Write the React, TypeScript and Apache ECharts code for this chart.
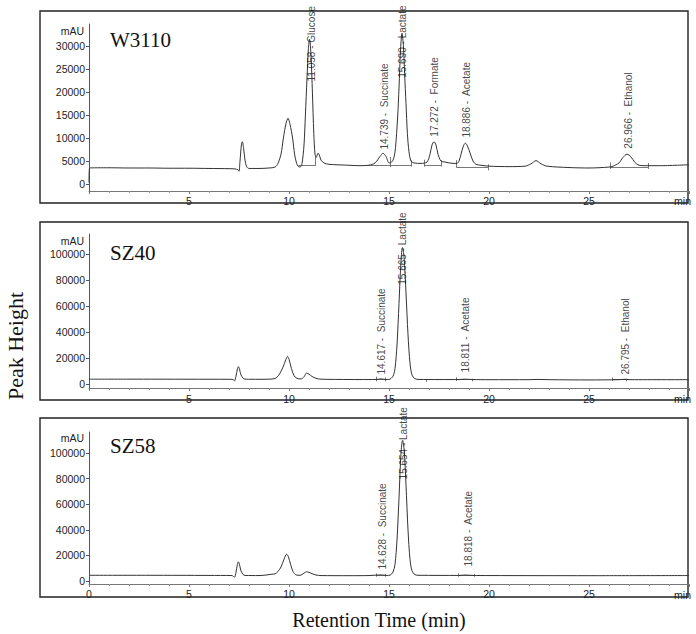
import React, { useEffect, useRef } from 'react';
import * as echarts from 'echarts';

// ---------- data (retention time in min, signal in mAU) ----------
const w3110Trace: [number, number][] = [
  [0, 300], [0.03, 3500], [1, 3550], [2, 3500], [3, 3500], [4, 3450], [5, 3450], [6, 3400], [7, 3350],
  [7.3, 3300], [7.45, 3100], [7.5, 2800], [7.55, 5000], [7.62, 8500], [7.67, 9200], [7.73, 7800],
  [7.8, 5200], [7.88, 3800], [8.0, 3400], [8.5, 3400], [9.0, 3500], [9.3, 3700], [9.45, 4500],
  [9.6, 6500], [9.72, 10000], [9.85, 13200], [9.95, 14300], [10.05, 13000], [10.18, 10000],
  [10.28, 6500], [10.38, 4500], [10.47, 3800], [10.55, 3700], [10.65, 4500], [10.75, 8500],
  [10.82, 15000], [10.9, 23000], [10.97, 29500], [11.03, 31500], [11.1, 28000], [11.17, 20000],
  [11.24, 11000], [11.3, 6500], [11.36, 5800], [11.45, 6700], [11.52, 6300], [11.6, 5200],
  [11.75, 4600], [12, 4300], [13, 4100], [13.5, 4000], [14.0, 4100], [14.3, 4600], [14.55, 6000],
  [14.7, 6700], [14.85, 6000], [15.0, 4600], [15.05, 4600], [15.2, 5200], [15.3, 7000],
  [15.38, 11000], [15.45, 16000], [15.52, 23000], [15.58, 29500], [15.65, 32800], [15.72, 30000],
  [15.78, 24000], [15.85, 17500], [15.92, 11000], [16.0, 7000], [16.1, 5000], [16.25, 4600],
  [16.6, 4500], [16.9, 4800], [17.05, 6500], [17.15, 8500], [17.25, 9200], [17.35, 8500],
  [17.45, 6500], [17.6, 5000], [17.8, 4800], [18.2, 4500], [18.4, 4500], [18.5, 5000], [18.6, 6500],
  [18.72, 8300], [18.82, 8900], [18.92, 8300], [19.05, 6800], [19.2, 5000], [19.35, 4300],
  [19.6, 4100], [20.0, 3900], [21, 3800], [21.8, 3900], [22.1, 4400], [22.35, 5100], [22.6, 4400],
  [22.9, 3900], [24, 3600], [25, 3500], [26, 3700], [26.2, 3900], [26.5, 4600], [26.7, 5800],
  [26.9, 6500], [27.1, 5900], [27.3, 4700], [27.5, 4100], [27.8, 4000], [28.5, 4000], [30, 4200],
];

const sz40Trace: [number, number][] = [
  [0, 3700], [2, 3700], [5, 3650], [7.0, 3600], [7.2, 3500], [7.27, 2300], [7.35, 6000],
  [7.42, 11500], [7.47, 13300], [7.53, 11000], [7.6, 7000], [7.7, 4500], [7.8, 3700], [8.5, 3600],
  [9.0, 3700], [9.3, 4200], [9.5, 7000], [9.7, 13000], [9.85, 19000], [9.92, 21200], [10.0, 19000],
  [10.12, 12000], [10.25, 6500], [10.4, 4300], [10.6, 3900], [10.75, 5500], [10.88, 8400],
  [11.0, 7500], [11.15, 5800], [11.35, 4300], [11.6, 3700], [12.5, 3500], [13.5, 3400],
  [14.4, 3500], [14.6, 3900], [14.8, 3500], [15.0, 3500], [15.2, 6000], [15.3, 12000],
  [15.4, 30000], [15.5, 62000], [15.6, 95000], [15.67, 105000], [15.75, 98000], [15.85, 70000],
  [15.95, 38000], [16.05, 16000], [16.15, 7000], [16.3, 4000], [16.5, 3500], [17.5, 3400],
  [18.5, 3400], [18.8, 3700], [19.2, 3400], [20, 3300], [22, 3300], [22.4, 3500], [23, 3300],
  [25, 3100], [26.5, 3300], [26.8, 3600], [27.1, 3300], [30, 3300],
];

const sz58Trace: [number, number][] = [
  [0, 4500], [3, 4500], [6, 4400], [7.15, 4300], [7.27, 3000], [7.35, 7000], [7.42, 13000],
  [7.47, 15000], [7.53, 12500], [7.6, 8000], [7.7, 5200], [7.8, 4400], [8.5, 4300], [8.9, 4800],
  [9.1, 5300], [9.3, 5600], [9.45, 7500], [9.6, 11000], [9.75, 17000], [9.88, 21000],
  [9.97, 19000], [10.08, 13000], [10.2, 7500], [10.35, 4800], [10.55, 4500], [10.75, 6200],
  [10.88, 7300], [11.0, 6800], [11.15, 5800], [11.35, 4700], [11.6, 4300], [13, 4200],
  [14.0, 4300], [14.6, 4800], [14.9, 4400], [15.05, 4600], [15.2, 7000], [15.3, 13000],
  [15.4, 32000], [15.5, 65000], [15.6, 100000], [15.68, 110000], [15.76, 102000], [15.85, 75000],
  [15.95, 40000], [16.05, 17000], [16.15, 8000], [16.3, 5000], [16.5, 4500], [18.5, 4400],
  [18.8, 4700], [19.2, 4400], [20, 4300], [25, 4200], [30, 4300],
];

// peak annotations: [time, value where the label starts, text]
const w3110Peaks: [number, number, string][] = [
  [11.1, 22200, '11.058 - Glucose'],
  [14.75, 7400, '14.739 -  Succinate'],
  [15.65, 23000, '15.690 - Lactate'],
  [17.25, 10200, '17.272 -  Formate'],
  [18.85, 10000, '18.886 -  Acetate'],
  [26.95, 7600, '26.966 -  Ethanol'],
];
const sz40Peaks: [number, number, string][] = [
  [14.63, 6900, '14.617 -  Succinate'],
  [15.67, 76000, '15.665 - Lactate'],
  [18.8, 8500, '18.811 -  Acetate'],
  [26.8, 6900, '26.795 -  Ethanol'],
];
const sz58Peaks: [number, number, string][] = [
  [14.68, 8600, '14.628 -  Succinate'],
  [15.72, 79000, '15.654 - Lactate'],
  [18.97, 11000, '18.818 -  Acetate'],
];

// integration marks: vertical ticks [time, from, to] and baselines [from, to, value]
const w3110Ticks: [number, number, number][] = [
  [11.33, 4000, 5900], [15.05, 3700, 5900], [16.13, 3800, 5200], [16.77, 3800, 5300],
  [17.63, 3800, 5200], [18.37, 3600, 5200], [19.95, 3000, 4300], [26.05, 3300, 4700], [27.95, 3300, 4600],
];
const w3110Bases: [number, number, number][] = [
  [10.47, 11.33, 4000], [13.92, 15.05, 4100], [15.05, 16.13, 4000], [16.77, 17.63, 4000],
  [18.37, 19.95, 3700], [26.05, 27.95, 3600],
];
const sz40Ticks: [number, number, number][] = [
  [14.35, 2000, 5600], [14.8, 2000, 5000], [16.85, 1500, 3500], [18.38, 2300, 5200],
  [19.18, 2000, 4000], [26.18, 2300, 5000], [26.85, 2000, 4000],
];
const sz40Bases: [number, number, number][] = [
  [14.35, 14.8, 3500], [18.38, 19.18, 3300], [26.18, 26.85, 3300],
];
const sz58Ticks: [number, number, number][] = [
  [14.35, 3400, 6000], [14.8, 3400, 5500], [18.47, 3400, 6000], [19.27, 3400, 5500],
];
const sz58Bases: [number, number, number][] = [
  [14.35, 14.8, 4300], [18.47, 19.27, 4300],
];

const panelNames = ['W3110', 'SZ40', 'SZ58'];
const yTicksW3110 = [0, 5000, 10000, 15000, 20000, 25000, 30000];
const yTicksSZ = [0, 20000, 40000, 60000, 80000, 100000];

// ---------- layout ----------
const SANS = '"Liberation Sans", Arial, sans-serif';
const SERIF = '"Liberation Serif", "Times New Roman", serif';

const panels = [
  { trace: w3110Trace, peaks: w3110Peaks, ticks: w3110Ticks, bases: w3110Bases, yTicks: yTicksW3110,
    top: 24, height: 167, min: -1500, max: 34800, box: [40, 11, 648, 192], nameY: 40, mauY: 31, minY: 201, margin: 4, showZero: false },
  { trace: sz40Trace, peaks: sz40Peaks, ticks: sz40Ticks, bases: sz40Bases, yTicks: yTicksSZ,
    top: 234, height: 154, min: -3100, max: 115400, box: [40, 222, 648, 178], nameY: 253, mauY: 241, minY: 399, margin: 5, showZero: false },
  { trace: sz58Trace, peaks: sz58Peaks, ticks: sz58Ticks, bases: sz58Bases, yTicks: yTicksSZ,
    top: 432, height: 152, min: -2300, max: 116450, box: [40, 418, 648, 179], nameY: 446, mauY: 438, minY: 595, margin: 4, showZero: true },
];

export default function App() {
  const ref = useRef<HTMLDivElement>(null);
  useEffect(() => {
    if (!ref.current) return;
    const chart = echarts.init(ref.current, undefined, { renderer: 'svg' });

    const grid = panels.map((p) => ({ left: 89, width: 600, top: p.top, height: p.height }));
    const xAxis = panels.map((p, i) => ({
      gridIndex: i, type: 'value', min: 0, max: 30, interval: 5,
      axisLine: { show: true, onZero: false, lineStyle: { color: '#777', width: 1 } },
      axisTick: { show: true, length: 3, lineStyle: { color: '#777' } },
      minorTick: { show: true, splitNumber: 5, length: 2, lineStyle: { color: '#999' } },
      splitLine: { show: false },
      axisLabel: { showMinLabel: p.showZero, showMaxLabel: false, fontSize: 10.5, color: '#222',
        margin: p.margin, fontFamily: SANS, formatter: (v: number) => String(v) },
    }));
    const yAxis = panels.map((p, i) => ({
      gridIndex: i, type: 'value', min: p.min, max: p.max,
      axisLine: { show: true, onZero: false, lineStyle: { color: '#555', width: 1 } },
      axisTick: { show: true, length: 3, customValues: p.yTicks, lineStyle: { color: '#555' } },
      axisLabel: { customValues: p.yTicks, margin: 4, fontSize: 10.5, color: '#222', fontFamily: SANS,
        formatter: (v: number) => String(v) },
      splitLine: { show: false },
    }));

    const series: any[] = [];
    panels.forEach((p, i) => {
      series.push({
        type: 'line', xAxisIndex: i, yAxisIndex: i, data: p.trace, showSymbol: false,
        smooth: 0.3, lineStyle: { color: '#333', width: 1 }, z: 3,
      });
      const segs = [
        ...p.ticks.map(([x, a, b]) => ({ coords: [[x, a], [x, b]] })),
        ...p.bases.map(([a, b, y]) => ({ coords: [[a, y], [b, y]] })),
      ];
      series.push({
        type: 'lines', coordinateSystem: 'cartesian2d', xAxisIndex: i, yAxisIndex: i,
        data: segs, lineStyle: { color: '#555', width: 0.8, opacity: 1 }, z: 2,
      });
      series.push({
        type: 'scatter', xAxisIndex: i, yAxisIndex: i, data: p.peaks, symbolSize: 1,
        itemStyle: { color: 'rgba(0,0,0,0)' }, z: 4,
        label: {
          show: true, position: 'top', distance: 0, rotate: 90, align: 'left', verticalAlign: 'middle',
          fontSize: 10, color: '#111', fontFamily: SANS,
          formatter: (prm: any) => prm.data[2],
        },
      });
    });

    const graphic: any[] = [];
    panels.forEach((p, i) => {
      const [bx, by, bw, bh] = p.box;
      graphic.push({ type: 'rect', silent: true, shape: { x: bx, y: by, width: bw, height: bh },
        style: { fill: 'none', stroke: '#222', lineWidth: 1.4 }, z: 0 });
      graphic.push({ type: 'text', silent: true, x: 110, y: p.nameY,
        style: { text: panelNames[i], fontSize: 21, fontFamily: SERIF, fill: '#111', align: 'left', verticalAlign: 'middle' } });
      graphic.push({ type: 'text', silent: true, x: 84, y: p.mauY,
        style: { text: 'mAU', fontSize: 10.5, fontFamily: SANS, fill: '#222', align: 'right', verticalAlign: 'middle' } });
      graphic.push({ type: 'text', silent: true, x: 691, y: p.minY,
        style: { text: 'min', fontSize: 10.5, fontFamily: SANS, fill: '#222', align: 'right', verticalAlign: 'middle' } });
    });
    graphic.push({ type: 'text', silent: true, x: 15, y: 346, rotation: Math.PI / 2,
      style: { text: 'Peak Height', fontSize: 22, fontFamily: SERIF, fill: '#111', align: 'center', verticalAlign: 'middle' } });
    graphic.push({ type: 'text', silent: true, x: 379, y: 620,
      style: { text: 'Retention Time (min)', fontSize: 20, fontFamily: SERIF, fill: '#111', align: 'center', verticalAlign: 'middle' } });

    chart.setOption({
      animation: false,
      backgroundColor: '#fff',
      grid, xAxis, yAxis, series, graphic,
    });
    return () => chart.dispose();
  }, []);

  return <div ref={ref} style={{ position: 'fixed', left: 0, top: 0, width: 696, height: 634 }} />;
}
